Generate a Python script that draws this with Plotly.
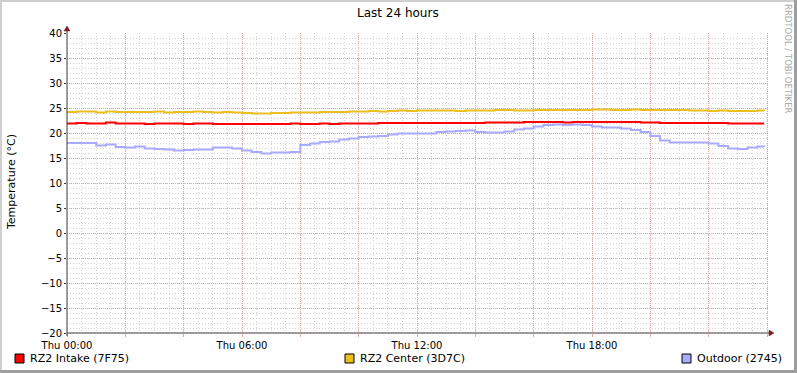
import plotly.graph_objects as go

# ---- data (hours since Thu 00:00, 20-minute steps) ----
hours = [i / 3 for i in range(72)] + [23.9]

intake = [21.9, 22.0, 21.9, 21.9, 22.1, 21.9, 21.9,
          21.9, 21.8, 21.9, 21.9, 21.9, 21.8,
          21.9, 21.9, 21.8, 21.8, 21.8, 21.8,
          21.8, 21.8, 21.8, 21.8, 21.9, 21.8,
          21.8, 21.9, 21.8, 21.9, 21.9, 21.9,
          21.9, 22.0, 22.0, 22.0, 22.0, 22.0,
          22.0, 22.0, 22.0, 22.0, 22.0, 22.0,
          22.1, 22.1, 22.1, 22.1, 22.2, 22.2,
          22.2, 22.2, 22.1, 22.2, 22.2, 22.2,
          22.2, 22.2, 22.2, 22.2, 22.1, 22.1,
          22.0, 22.0, 22.0, 22.0, 22.0, 22.0,
          22.0, 21.9, 21.9, 21.9, 21.9,
          21.9]

center = [24.2, 24.3, 24.3, 24.1, 24.3, 24.2, 24.2,
          24.2, 24.2, 24.3, 24.1, 24.2, 24.2,
          24.3, 24.2, 24.1, 24.2, 24.1, 24.0,
          23.9, 23.9, 24.0, 24.0, 24.1, 24.1,
          24.1, 24.2, 24.2, 24.2, 24.3, 24.3,
          24.4, 24.3, 24.4, 24.5, 24.4, 24.5,
          24.5, 24.5, 24.5, 24.4, 24.5, 24.5,
          24.5, 24.6, 24.6, 24.5, 24.5, 24.6,
          24.6, 24.6, 24.6, 24.6, 24.6, 24.7,
          24.7, 24.6, 24.6, 24.7, 24.6, 24.6,
          24.6, 24.6, 24.6, 24.5, 24.5, 24.4,
          24.5, 24.4, 24.4, 24.4, 24.5,
          24.4]

outdoor = [18.0, 18.0, 18.0, 17.5, 17.7, 17.2, 17.1,
           17.3, 16.9, 16.8, 16.7, 16.5, 16.6,
           16.7, 16.7, 17.1, 17.1, 16.9, 16.5,
           16.2, 15.9, 16.1, 16.1, 16.2, 17.6,
           17.9, 18.2, 18.3, 18.7, 18.9, 19.2,
           19.3, 19.4, 19.7, 19.9, 19.9, 19.9,
           19.9, 20.2, 20.3, 20.4, 20.5, 20.2,
           20.1, 20.1, 20.3, 20.7, 20.9, 21.3,
           21.6, 21.7, 21.6, 21.7, 21.6, 21.3,
           21.1, 21.1, 20.9, 20.6, 20.2, 19.4,
           18.5, 18.1, 18.1, 18.1, 18.1, 17.9,
           17.4, 16.9, 16.8, 17.1, 17.3,
           17.2]

series_names = ["RZ2 Intake (7F75)", "RZ2 Center (3D7C)", "Outdoor (2745)"]
series_colors = ["#FF0000", "#EBC01E", "#AAAAFF"]

x_major = [0, 2, 4, 6, 8, 10, 12, 14, 16, 18, 20, 22, 24]
x_labels = {0: "Thu 00:00", 6: "Thu 06:00", 12: "Thu 12:00", 18: "Thu 18:00"}
y_ticks = [-20, -15, -10, -5, 0, 5, 10, 15, 20, 25, 30, 35, 40]

W, H = 797, 373
L, R, T, B = 67, 769, 33, 333


def px(x):
    return (x - L) / (R - L)


def py(y):
    return (B - y) / (B - T)


fig = go.Figure()
for name, vals, col in zip(series_names, [intake, center, outdoor], series_colors):
    fig.add_trace(go.Scatter(x=hours, y=vals, mode="lines", name=name,
                             line=dict(color=col, width=2, shape="hv"),
                             showlegend=False, hoverinfo="skip"))

font = "DejaVu Sans"
axis_col = "#403838"
arrow_col = "#7F1F1F"
major_col = "#E8A8A8"
minor_col = "#D4D4D4"

fig.update_layout(
    width=W, height=H, autosize=False,
    margin=dict(l=L, r=W - R, t=T, b=H - B, pad=0),
    paper_bgcolor="white", plot_bgcolor="white",
    font=dict(family=font, size=10, color="black"),
    xaxis=dict(range=[0, 24 * (R - L) / 700], showline=False, zeroline=False,
               tickmode="array", tickvals=x_major,
               ticktext=[x_labels.get(v, "") for v in x_major],
               showgrid=True, gridcolor=major_col, griddash="1px,1px", gridwidth=1,
               ticks="outside", ticklen=3, tickcolor=major_col,
               tickfont=dict(size=10, family=font),
               minor=dict(dtick=0.5, showgrid=True, gridcolor=minor_col,
                          griddash="1px,2px", gridwidth=1, ticks="")),
    yaxis=dict(range=[-20, 40], showline=False, zeroline=False,
               tickmode="array", tickvals=y_ticks,
               showgrid=True, gridcolor=major_col, griddash="1px,1px", gridwidth=1,
               ticks="outside", ticklen=2, tickcolor=axis_col,
               tickfont=dict(size=10, family=font),
               minor=dict(dtick=1, showgrid=True, gridcolor=minor_col,
                          griddash="1px,2px", gridwidth=1, ticks="")),
)

shapes = []
# frame
shapes.append(dict(type="line", xref="paper", yref="paper", x0=px(0), x1=px(W), y0=py(1), y1=py(1),
                   line=dict(color="#CFCFCF", width=2)))
shapes.append(dict(type="line", xref="paper", yref="paper", x0=px(1), x1=px(1), y0=py(0), y1=py(H),
                   line=dict(color="#CFCFCF", width=2)))
shapes.append(dict(type="line", xref="paper", yref="paper", x0=px(0), x1=px(W), y0=py(H - 1.5), y1=py(H - 1.5),
                   line=dict(color="#9E9E9E", width=3)))
shapes.append(dict(type="line", xref="paper", yref="paper", x0=px(W - 1.5), x1=px(W - 1.5), y0=py(0), y1=py(H),
                   line=dict(color="#9E9E9E", width=3)))
# axes
shapes.append(dict(type="line", xref="paper", yref="paper", x0=px(L), x1=px(771), y0=py(B), y1=py(B),
                   line=dict(color=axis_col, width=1)))
shapes.append(dict(type="line", xref="paper", yref="paper", x0=px(L), x1=px(L), y0=py(B + 3), y1=py(29),
                   line=dict(color=axis_col, width=1)))
# arrows
shapes.append(dict(type="path", xref="paper", yref="paper",
                   path=f"M {px(769)} {py(B-3)} L {px(774)} {py(B)} L {px(769)} {py(B+3)} Z",
                   fillcolor=arrow_col, line=dict(color=arrow_col, width=0.5)))
shapes.append(dict(type="path", xref="paper", yref="paper",
                   path=f"M {px(L-3)} {py(31)} L {px(L)} {py(26)} L {px(L+3)} {py(31)} Z",
                   fillcolor=arrow_col, line=dict(color=arrow_col, width=0.5)))

annotations = []
annotations.append(dict(text="Last 24 hours", xref="paper", yref="paper", x=px(398), y=py(13),
                        xanchor="center", yanchor="middle",
                        showarrow=False, font=dict(size=12, family=font)))
annotations.append(dict(text="Temperature (°C)", xref="paper", yref="paper", x=px(11), y=py(182),
                        xanchor="center", yanchor="middle",
                        textangle=-90, showarrow=False, font=dict(size=11, family=font)))
annotations.append(dict(text="RRDTOOL / TOBI OETIKER", xref="paper", yref="paper", x=px(788), y=py(59),
                        xanchor="center", yanchor="middle",
                        textangle=90, showarrow=False, font=dict(size=8.5, family=font, color="#AAAAAA")))

legend_pos = [15, 345, 682]
for xpos, name, col in zip(legend_pos, series_names, series_colors):
    shapes.append(dict(type="rect", xref="paper", yref="paper",
                       x0=px(xpos), x1=px(xpos + 9), y0=py(354), y1=py(363),
                       fillcolor=col, line=dict(color="black", width=1)))
    annotations.append(dict(text=name, xref="paper", yref="paper", x=px(xpos + 13), y=py(358.5),
                            xanchor="left", yanchor="middle", showarrow=False,
                            font=dict(size=11, family=font)))

fig.update_layout(shapes=shapes, annotations=annotations)
fig.write_html("out.html", config={"displayModeBar": False},
               post_script="document.body.style.margin='0';document.body.style.overflow='hidden';")
